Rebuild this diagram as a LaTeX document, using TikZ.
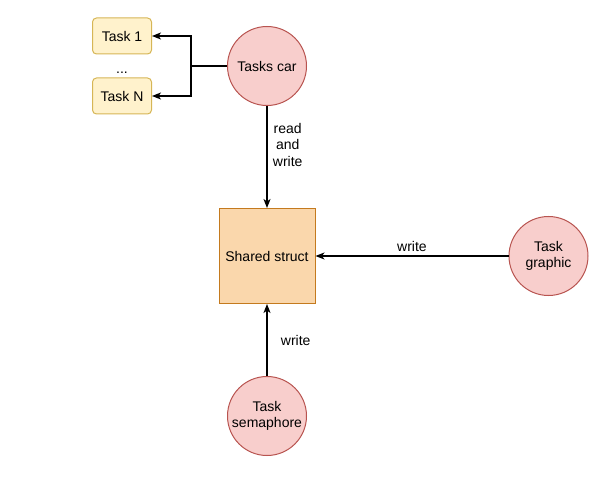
\documentclass[tikz,border=0pt]{standalone}
\usepackage{fontspec}
\setmainfont{Liberation Sans}
\usetikzlibrary{positioning, arrows.meta}

\definecolor{redfill}{HTML}{F8CECC}
\definecolor{redline}{HTML}{B85450}
\definecolor{yellowfill}{HTML}{FFF2CC}
\definecolor{yellowline}{HTML}{D6B656}
\definecolor{orangefill}{HTML}{FAD7AC}
\definecolor{orangeline}{HTML}{C47A1E}

\begin{document}
\begin{tikzpicture}[x=1pt, y=1pt, font=\fontsize{14}{16.5}\selectfont]
        % Style des noeuds
        \tikzstyle{task} = [circle, minimum size=79pt, inner sep=0pt, align=center, draw=redline, fill=redfill, line width=1pt]
        \tikzstyle{subtask} = [rectangle, rounded corners=4pt, minimum width=59pt, minimum height=36pt, draw=yellowline, fill=yellowfill, line width=1pt]
        \tikzstyle{shared} = [rectangle, minimum width=96pt, minimum height=95pt, draw=orangeline, fill=orangefill, line width=1pt]
        \tikzstyle{arrow} = [line width=1.2pt, -{Stealth[length=9pt, width=7pt, inset=2.5pt]}]

        \useasboundingbox (0,0) rectangle (608,-481);

        % Noeuds
        \node (struct) [shared] at (267,-256) {Shared struct};
        \node (car) [task, above=102pt of struct] {Tasks car};
        \node (graphic) [task, right=193pt of struct] {Task\\graphic};
        \node (semaphore) [task, below=72pt of struct] {Task\\semaphore};
        \node (task1) [subtask, left=75pt of car, yshift=30pt] {Task 1};
        \node (taskN) [subtask, below=23pt of task1] {Task N};
        \node (dots) [below=14pt of task1] {...};
        \coordinate (split) at ([xshift=-36pt]car.west);

        % Flèches
        \draw [line width=1.2pt] (car) -- (split);
        \draw [arrow] (split) |- (task1);
        \draw [arrow] (split) |- (taskN);
        \draw [arrow] (car) -- node[pos=0.38, right=2pt, align=center] {read\\and\\write} (struct);
        \draw [arrow] (graphic) -- node[midway, above] {write} (struct);
        \draw [arrow] (semaphore) -- node[midway, right=10pt] {write} (struct);
    \end{tikzpicture}
\end{document}
